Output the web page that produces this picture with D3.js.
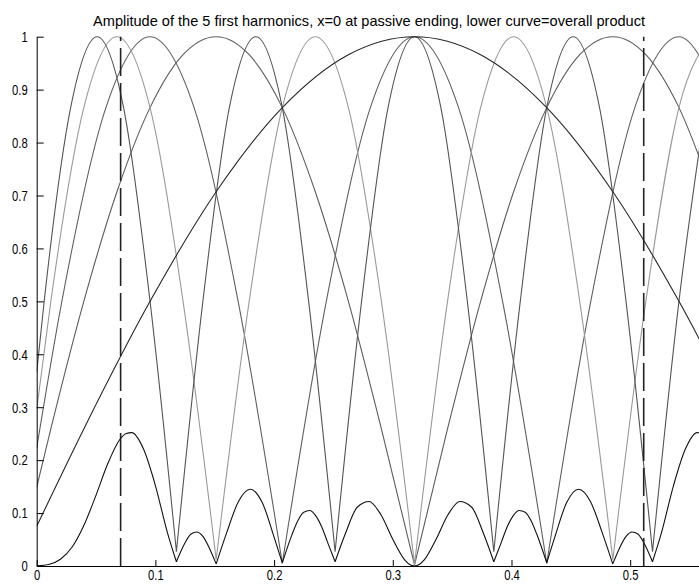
<!DOCTYPE html>
<html>
<head>
<meta charset="utf-8">
<script src="https://cdn.jsdelivr.net/npm/d3@7"></script>
<style>
  html, body { margin: 0; padding: 0; background: #fff; }
  svg { display: block; }
</style>
</head>
<body>
<svg id="chart" width="699" height="587"></svg>
<script>
// ---- data ([x, amplitude]) ----
const titleText = "Amplitude of the 5 first harmonics, x=0 at passive ending, lower curve=overall product";
const xTicks = [0, 0.1, 0.2, 0.3, 0.4, 0.5];
const yTicks = [0, 0.1, 0.2, 0.3, 0.4, 0.5, 0.6, 0.7, 0.8, 0.9, 1];
const dashedX = [0.0707, 0.5114];

const harmonic1 = [[0,0.075],[0.0397,0.259],[0.0955,0.5],[0.1512,0.707],[0.2069,0.866],[0.2626,0.966],[0.3183,1],[0.3740,0.966],[0.4297,0.866],[0.4854,0.707],[0.5411,0.5],[0.5968,0.259]];

const harmonic2 = [[0,0.149],[0.0119,0.259],[0.0397,0.5],[0.0676,0.707],[0.0955,0.866],[0.1233,0.966],[0.1512,1],[0.1790,0.966],[0.2069,0.866],[0.2347,0.707],[0.2626,0.5],[0.2904,0.259],[0.3183,0.002],[0.3461,0.259],[0.3740,0.5],[0.4018,0.707],[0.4297,0.866],[0.4575,0.966],[0.4854,1],[0.5132,0.966],[0.5411,0.866],[0.5689,0.707]];

const harmonic3 = [[0,0.223],[0.0212,0.5],[0.0583,0.866],[0.0955,1],[0.1326,0.866],[0.1697,0.5],[0.2069,0.005],[0.2440,0.5],[0.2811,0.866],[0.3183,1],[0.3554,0.866],[0.3925,0.5],[0.4297,0.005],[0.4668,0.5],[0.5039,0.866],[0.5411,1],[0.5782,0.866]];

const harmonic4 = [[0,0.296],[0.0119,0.5],[0.0397,0.866],[0.0676,1],[0.0955,0.866],[0.1233,0.5],[0.1512,0.012],[0.1790,0.5],[0.2069,0.866],[0.2347,1],[0.2626,0.866],[0.2904,0.5],[0.3183,0.003],[0.3461,0.5],[0.3740,0.866],[0.4018,1],[0.4297,0.866],[0.4575,0.5],[0.4854,0.012],[0.5132,0.5],[0.5411,0.866],[0.5689,1]];

const harmonic5 = [[0,0.366],[0.0063,0.5],[0.0286,0.866],[0.0509,1],[0.0732,0.866],[0.0955,0.5],[0.1177,0.027],[0.1400,0.5],[0.1623,0.866],[0.1846,1],[0.2069,0.866],[0.2291,0.5],[0.2514,0.027],[0.2737,0.5],[0.2960,0.866],[0.3183,1],[0.3405,0.866],[0.3628,0.5],[0.3851,0.027],[0.4074,0.5],[0.4297,0.866],[0.4520,1],[0.4742,0.866],[0.4965,0.5],[0.5188,0.027],[0.5411,0.5],[0.5634,0.866]];

const product = [[0,0.0003],[0.01,0.0028],[0.02,0.0127],[0.03,0.0363],[0.04,0.0779],[0.05,0.134],[0.06,0.194],[0.07,0.239],[0.075,0.250],[0.08,0.252],[0.09,0.221],[0.10,0.152],[0.11,0.064],[0.1177,0.008],[0.125,0.0438],[0.13,0.0605],[0.135,0.0642],[0.14,0.0558],[0.145,0.0361],[0.1512,0.004],[0.16,0.0626],[0.17,0.122],[0.18,0.145],[0.19,0.120],[0.20,0.0545],[0.2069,0.006],[0.215,0.0589],[0.22,0.0856],[0.225,0.1017],[0.23,0.1048],[0.235,0.0953],[0.24,0.0746],[0.245,0.0452],[0.2514,0.008],[0.26,0.0608],[0.27,0.111],[0.28,0.122],[0.29,0.0968],[0.30,0.0507],[0.31,0.0117],[0.315,0.0019],[0.3183,0],[0.3215,0.0019],[0.3265,0.0117],[0.3365,0.0507],[0.3465,0.0968],[0.3565,0.122],[0.3665,0.111],[0.3765,0.0608],[0.3851,0.008],[0.3915,0.0452],[0.3965,0.0746],[0.4015,0.0953],[0.4065,0.1048],[0.4115,0.1017],[0.4165,0.0856],[0.4215,0.0589],[0.4297,0.006],[0.4365,0.0545],[0.4465,0.120],[0.4565,0.145],[0.4665,0.122],[0.4765,0.0626],[0.4853,0.004],[0.4915,0.0361],[0.4965,0.0558],[0.5015,0.0642],[0.5065,0.0605],[0.5115,0.0438],[0.5188,0.008],[0.5265,0.064],[0.5365,0.152],[0.5465,0.221],[0.5565,0.252],[0.5615,0.250],[0.5665,0.239]];

const seriesList = [
  { name: "h2", data: harmonic2, color: "#5c5c5c" },
  { name: "h3", data: harmonic3, color: "#606060" },
  { name: "h4", data: harmonic4, color: "#9a9a9a" },
  { name: "h5", data: harmonic5, color: "#555555" },
  { name: "h1", data: harmonic1, color: "#262626" },
  { name: "product", data: product, color: "#111111" }
];

// ---- layout ----
const svg = d3.select("#chart");
const padL = 36.7, padR = 701.4, padT = 36.7, padB = 566;
const x = d3.scaleLinear().domain([0, 0.56]).range([padL, padR]);
const y = d3.scaleLinear().domain([0, 1]).range([padB, padT]);

svg.append("defs").append("clipPath").attr("id", "plotclip")
  .append("rect").attr("x", padL).attr("y", padT - 4)
  .attr("width", padR - padL).attr("height", padB - padT + 4);

const plot = svg.append("g").attr("clip-path", "url(#plotclip)");

// split series at cusp minima so each arch is a smooth piece
function pieces(data) {
  const out = [];
  let cur = [data[0]];
  for (let i = 1; i < data.length; i++) {
    cur.push(data[i]);
    if (i < data.length - 1 && data[i][1] < data[i-1][1] && data[i][1] < data[i+1][1]) {
      out.push(cur);
      cur = [data[i]];
    }
  }
  out.push(cur);
  return out;
}
const line = d3.line().x(d => x(d[0])).y(d => y(d[1])).curve(d3.curveMonotoneX);

seriesList.forEach(s => {
  const d = pieces(s.data).map(p => line(p)).join("");
  plot.append("path").attr("d", d)
    .attr("fill", "none").attr("stroke", s.color).attr("stroke-width", 1.1)
    .attr("stroke-linejoin", "round");
});

// dashed verticals
plot.selectAll("line.dash").data(dashedX).enter().append("line")
  .attr("class", "dash")
  .attr("x1", d => x(d)).attr("x2", d => x(d))
  .attr("y1", y(0)).attr("y2", y(1))
  .attr("stroke", "#222").attr("stroke-width", 1.6)
  .attr("stroke-dasharray", "28,7");

// axes
const fmt = d => d3.format("")(+d.toFixed(1));
const yAxis = d3.axisLeft(y).tickValues(yTicks).tickFormat(fmt)
  .tickSizeInner(-7).tickSizeOuter(0).tickPadding(9);
const xAxis = d3.axisBottom(x).tickValues(xTicks).tickFormat(fmt)
  .tickSizeInner(-6).tickSizeOuter(0).tickPadding(8);

const gy = svg.append("g").attr("transform", `translate(${padL},0)`).call(yAxis);
const gx = svg.append("g").attr("transform", `translate(0,${padB})`).call(xAxis);

[gx, gy].forEach(g => {
  g.select(".domain").attr("stroke", "#000").attr("stroke-width", 1);
  g.selectAll(".tick line").attr("stroke", "#000").attr("stroke-width", 1);
  g.selectAll(".tick text")
    .attr("font-family", "'Liberation Sans', Arial, sans-serif")
    .attr("font-size", 15).attr("fill", "#000")
    .each(function() {
      const w = this.getComputedTextLength();
      d3.select(this).attr("textLength", w * 0.75).attr("lengthAdjust", "spacingAndGlyphs");
    });
});
gx.selectAll(".tick text").attr("dy", null).attr("y", 14);

// title
svg.append("text")
  .attr("x", (padL + padR) / 2).attr("y", 26)
  .attr("text-anchor", "middle")
  .attr("font-family", "'Liberation Sans', Arial, sans-serif")
  .attr("font-size", 14.5).attr("fill", "#000")
  .attr("textLength", 552).attr("lengthAdjust", "spacingAndGlyphs")
  .text(titleText);
</script>
</body>
</html>
